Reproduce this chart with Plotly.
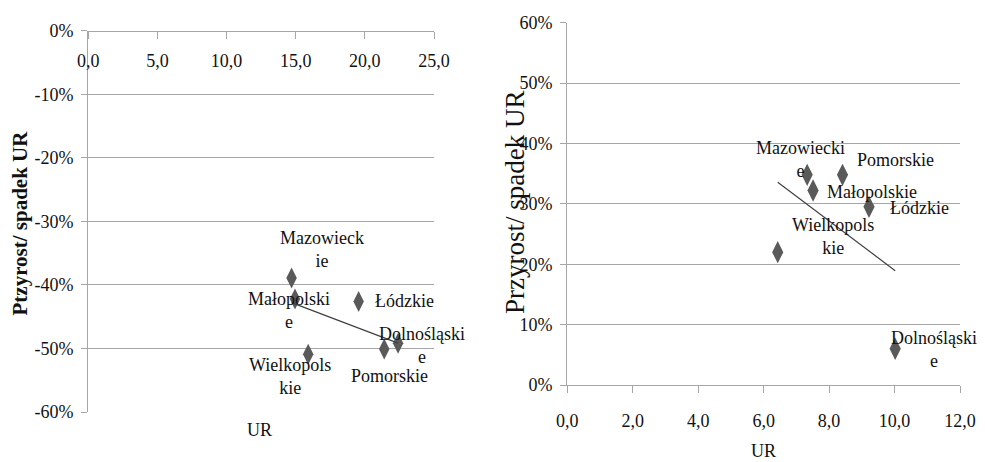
import numpy as np
import plotly.graph_objects as go

# ---------------- data ----------------
left_regions = ["Mazowieckie", "Małopolskie", "Łódzkie", "Wielkopolskie", "Pomorskie", "Dolnośląskie"]
left_labels = ["Mazowieck<br>ie", "Małopolski<br>e", "Łódzkie", "Wielkopols<br>kie", "Pomorskie", "Dolnośląski<br>e"]
left_x = [14.7, 14.95, 19.55, 15.9, 21.4, 22.4]
left_y = [-38.9, -42.2, -42.6, -50.9, -50.1, -49.2]

right_regions = ["Mazowieckie", "Małopolskie", "Łódzkie", "Wielkopolskie", "Pomorskie", "Dolnośląskie"]
right_labels = ["Mazowiecki<br>e", "Małopolskie", "Łódzkie", "Wielkopols<br>kie", "Pomorskie", "Dolnośląski<br>e"]
right_x = [7.33, 7.51, 9.22, 6.43, 8.41, 10.02]
right_y = [34.8, 32.2, 29.5, 22.0, 34.8, 6.0]

left_xtick_vals = [0, 5, 10, 15, 20, 25]
left_xtick_text = ["0,0", "5,0", "10,0", "15,0", "20,0", "25,0"]
left_ytick_vals = [0, -10, -20, -30, -40, -50, -60]
left_ytick_text = ["0%", "-10%", "-20%", "-30%", "-40%", "-50%", "-60%"]

right_xtick_vals = [0, 2, 4, 6, 8, 10, 12]
right_xtick_text = ["0,0", "2,0", "4,0", "6,0", "8,0", "10,0", "12,0"]
right_ytick_vals = [0, 10, 20, 30, 40, 50, 60]
right_ytick_text = ["0%", "10%", "20%", "30%", "40%", "50%", "60%"]

left_ytitle = "Ptzyrost/ spadek UR"
right_ytitle = "Przyrost/ spadek UR"
xtitle = "UR"

# label offsets (pixels) relative to points - styling only
left_label_shift = [(30, 28), (-6, -12), (46, 0), (-18, -22), (5, -27), (24, -2)]
right_label_shift = [(-7, 15), (59, -1), (50, -1), (55, 16), (53, 15), (39, -1)]

# ---------------- styling ----------------
PAGE = 8                       # default page margin around the figure
W, H = 985 - PAGE, 462 - PAGE  # figure size so that it fills the window
FONT = "Liberation Serif"
GRID = "#a6a6a6"
MARK = "#5a5a5a"
TXT = "#111111"

def px_x(p):
    return (p - PAGE) / W

def px_y(p):
    return 1 - (p - PAGE) / H

fig = go.Figure()

def trend(xs, ys):
    k, b = np.polyfit(xs, ys, 1)
    xx = np.array([min(xs), max(xs)])
    return xx, k * xx + b

# left chart
fig.add_trace(go.Scatter(x=left_x, y=left_y, mode="markers", text=left_regions,
                         marker=dict(symbol="diamond-tall", size=15, color=MARK),
                         xaxis="x", yaxis="y", showlegend=False))
tx, ty = trend(left_x, left_y)
fig.add_trace(go.Scatter(x=tx, y=ty, mode="lines", line=dict(color="#404040", width=1.2),
                         xaxis="x", yaxis="y", showlegend=False))

# right chart
fig.add_trace(go.Scatter(x=right_x, y=right_y, mode="markers", text=right_regions,
                         marker=dict(symbol="diamond-tall", size=16, color=MARK),
                         xaxis="x2", yaxis="y2", showlegend=False))
tx2, ty2 = trend(right_x, right_y)
fig.add_trace(go.Scatter(x=tx2, y=ty2, mode="lines", line=dict(color="#404040", width=1.2),
                         xaxis="x2", yaxis="y2", showlegend=False))

annotations = []
for lab, x, y, (dx, dy) in zip(left_labels, left_x, left_y, left_label_shift):
    annotations.append(dict(x=x, y=y, xref="x", yref="y", text=lab, showarrow=False,
                            xanchor="center", yanchor="middle",
                            xshift=dx, yshift=dy, font=dict(family=FONT, size=18, color=TXT)))
for lab, x, y, (dx, dy) in zip(right_labels, right_x, right_y, right_label_shift):
    annotations.append(dict(x=x, y=y, xref="x2", yref="y2", text=lab, showarrow=False,
                            xanchor="center", yanchor="middle",
                            xshift=dx, yshift=dy, font=dict(family=FONT, size=18, color=TXT)))

def paper_text(xp, yp, text, size, angle=0):
    return dict(x=px_x(xp), y=px_y(yp), xref="paper", yref="paper", text=text,
                textangle=angle, showarrow=False, xanchor="center", yanchor="middle",
                font=dict(family=FONT, size=size, color=TXT))

annotations.append(paper_text(19, 223.5, "<b>" + left_ytitle + "</b>", 21, -90))
annotations.append(paper_text(515, 203, right_ytitle, 27, -90))
annotations.append(paper_text(259, 430, xtitle, 18))
annotations.append(paper_text(763.5, 451, xtitle, 18))

tickfont = dict(family=FONT, size=18, color=TXT)

common = dict(automargin=False, tickcolor=GRID, showline=True, linecolor=GRID, linewidth=1.3,
              zeroline=False, tickfont=tickfont, ticks="outside")

fig.update_layout(
    template="none",
    width=W, height=H,
    margin=dict(l=0, r=0, t=0, b=0),
    paper_bgcolor="white", plot_bgcolor="white",
    annotations=annotations,
    xaxis=dict(domain=[px_x(88.3), px_x(434)], range=[0, 25], anchor="free", position=px_y(30.7),
               side="bottom", tickvals=left_xtick_vals, ticktext=left_xtick_text,
               ticklen=7, showgrid=False, ticklabelstandoff=7, **common),
    yaxis=dict(domain=[px_y(412), px_y(30.7)], range=[-60, 0], anchor="x",
               tickvals=left_ytick_vals, ticktext=left_ytick_text,
               ticklen=6, showgrid=True, gridcolor=GRID, gridwidth=1.3, ticklabelstandoff=4, **common),
    xaxis2=dict(domain=[px_x(567.3), px_x(960)], range=[0, 12], anchor="y2",
                side="bottom", tickvals=right_xtick_vals, ticktext=right_xtick_text,
                ticklen=7, showgrid=False, ticklabelstandoff=12, **common),
    yaxis2=dict(domain=[px_y(385), px_y(22.7)], range=[0, 60], anchor="x2",
                tickvals=right_ytick_vals, ticktext=right_ytick_text,
                ticklen=6, showgrid=True, gridcolor=GRID, gridwidth=1.3, ticklabelstandoff=4, **common),
)

fig.write_html("out.html")
